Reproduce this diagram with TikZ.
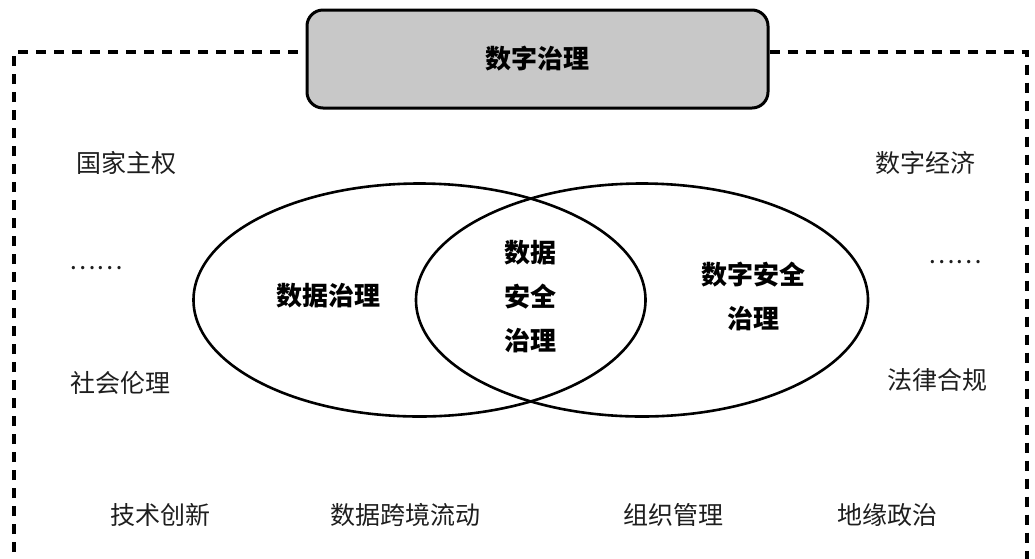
\documentclass[tikz,border=0pt]{standalone}
\usepackage{fontspec}
\setmainfont{Noto Sans CJK SC}
\usetikzlibrary{shapes.geometric}
\definecolor{boxgray}{RGB}{200,200,200}
\definecolor{txt}{RGB}{30,30,30}
\tikzset{
  frame/.style={line width=3.2pt, dash pattern=on 10pt off 8pt},
  titlebox/.style={draw, line width=3pt, fill=boxgray, rounded corners=16pt, minimum width=461pt, minimum height=98pt, font=\fontsize{26}{30}\selectfont\bfseries},
  venn/.style={draw, ellipse, line width=2.6pt, minimum width=452pt, minimum height=233pt, inner sep=0pt},
  outer/.style={text=txt, font=\fontsize{25}{30}\selectfont, inner sep=0pt},
  inner/.style={font=\fontsize{26}{44}\selectfont\bfseries, align=center, inner sep=0pt}
}
\begin{document}
\begin{tikzpicture}[x=1pt,y=-1pt]
\useasboundingbox (0,0) rectangle (1035,558);
\coordinate (bl) at (14,570);
\coordinate (tl) at (14,52);
\coordinate (tr) at (1027,52);
\coordinate (br) at (1027,570);
\node[titlebox] (title) at (537.5,59) {数字治理};
\draw[frame] (bl) -- (tl) -- (title.west |- tl);
\draw[frame] (title.east |- tr) -- (tr) -- (br);
\node[venn] (L) at (419.5,300) {};
\node[venn] (R) at (642,300) {};
\node[inner] (dg) at (328,296) {数据治理};
\node[inner] (dsg) at (530,297) {数据\\安全\\治理};
\node[inner] (dig) at (753,296) {数字安全\\治理};
\node[outer] (a1) at (126,163) {国家主权};
\node[outer] (a2) at (96,268) {……};
\node[outer] (a3) at (120,383) {社会伦理};
\node[outer] (b1) at (925,163) {数字经济};
\node[outer] (b2) at (955,262) {……};
\node[outer] (b3) at (937,380) {法律合规};
\node[outer] (c1) at (160,515) {技术创新};
\node[outer] (c2) at (405,515) {数据跨境流动};
\node[outer] (c3) at (673,515) {组织管理};
\node[outer] (c4) at (887,515) {地缘政治};
\end{tikzpicture}
\end{document}
